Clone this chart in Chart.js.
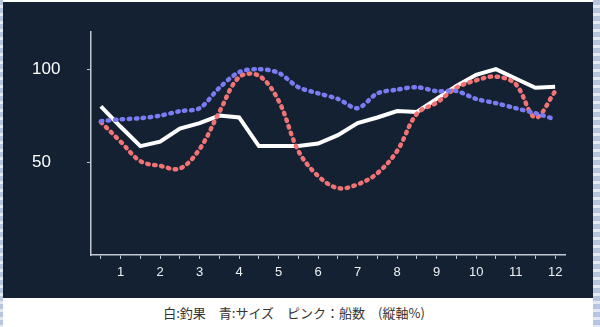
<!DOCTYPE html>
<html>
<head>
<meta charset="utf-8">
<script src="https://cdn.jsdelivr.net/npm/chart.js@4/dist/chart.umd.min.js"></script>
<style>
  html, body { margin: 0; padding: 0; background: #fff; }
  body { width: 600px; height: 327px; position: relative; overflow: hidden; }
  .edge {
    position: absolute; top: 0; height: 327px;
    background: repeating-linear-gradient(180deg, #b7c5dd 0 5px, #e3e9f3 5px 8px);
  }
  #panel {
    position: absolute; left: 3px; top: 2px; width: 590px; height: 296px;
    background: #132133;
  }
  #caption {
    position: absolute; left: 0; top: 303px; width: 588px; text-align: center;
    font: 13px "Noto Sans CJK JP", sans-serif; color: #333;
  }
</style>
</head>
<body>
<div class="edge" style="left:0;width:3px"></div>
<div class="edge" style="left:593px;width:7px"></div>
<div id="panel"><canvas id="chart" width="590" height="296"></canvas></div>
<div id="caption">白:釣果　青:サイズ　ピンク：船数　(縦軸%)</div>

<script>
// 半月ごとの値 (24点), ラベルは月
const halfMonths = ["", "1", "", "2", "", "3", "", "4", "", "5", "", "6",
                    "", "7", "", "8", "", "9", "", "10", "", "11", "", "12"];

// 白: 釣果
const catchRate = [80, 69, 58.6, 61, 68, 71, 75, 74, 58.6, 58.6, 58.6, 60,
                   64.5, 71, 74, 77.5, 77, 84, 91, 97, 100, 95, 90, 90.5];
// 青: サイズ
const sizeRate = [72, 73, 73.6, 75, 77.4, 79, 90, 98.4, 100, 98, 90.3, 87,
                  84, 79, 87, 89, 90.3, 88.2, 88.2, 84, 81.7, 79, 76.3, 73];
// ピンク: 船数
const boatRate = [71.5, 61, 50.5, 48, 46.5, 57, 77, 95.7, 96.5, 83, 56, 42.5,
                  36, 38, 44, 56, 76, 82, 90, 94, 96, 92, 74, 88];

const yTicks = [50, 100];

const axisColor = "#c3c7cf";

new Chart(document.getElementById("chart"), {
    type: "line",
    data: {
        labels: halfMonths,
        datasets: [
            {
                label: "サイズ",
                data: sizeRate,
                borderColor: "#7b7cf2",
                borderWidth: 4.5,
                borderDash: [1.5, 5.5],
                borderCapStyle: "round",
                tension: 0.3,
                pointRadius: 0
            },
            {
                label: "船数",
                data: boatRate,
                borderColor: "#f07474",
                borderWidth: 4.5,
                borderDash: [1.5, 5.5],
                borderCapStyle: "round",
                tension: 0.35,
                pointRadius: 0
            },
            {
                label: "釣果",
                data: catchRate,
                borderColor: "#ffffff",
                borderWidth: 4,
                tension: 0,
                pointRadius: 0
            }
        ]
    },
    options: {
        responsive: false,
        animation: false,
        devicePixelRatio: 1,
        layout: { padding: { left: 29, top: 30, right: 28, bottom: 0 } },
        plugins: {
            legend: { display: false },
            tooltip: { enabled: false }
        },
        scales: {
            x: {
                offset: true,
                grid: {
                    offset: false,
                    drawOnChartArea: false,
                    color: axisColor,
                    tickLength: 4
                },
                border: { color: axisColor, width: 1.5 },
                ticks: {
                    color: "#eef0f3",
                    font: { family: "Liberation Sans", size: 13 },
                    autoSkip: false,
                    maxRotation: 0,
                    padding: 6
                },
                afterFit: s => { s.height = 43; }
            },
            y: {
                min: 0,
                max: 120,
                afterBuildTicks: s => { s.ticks = yTicks.map(v => ({ value: v })); },
                grid: {
                    drawOnChartArea: false,
                    color: axisColor,
                    tickLength: 4
                },
                border: { color: axisColor, width: 1.5 },
                ticks: {
                    color: "#ffffff",
                    font: { family: "Liberation Sans", size: 17 },
                    crossAlign: "far"
                },
                afterFit: s => { s.width = 59; }
            }
        }
    }
});
</script>
</body>
</html>
